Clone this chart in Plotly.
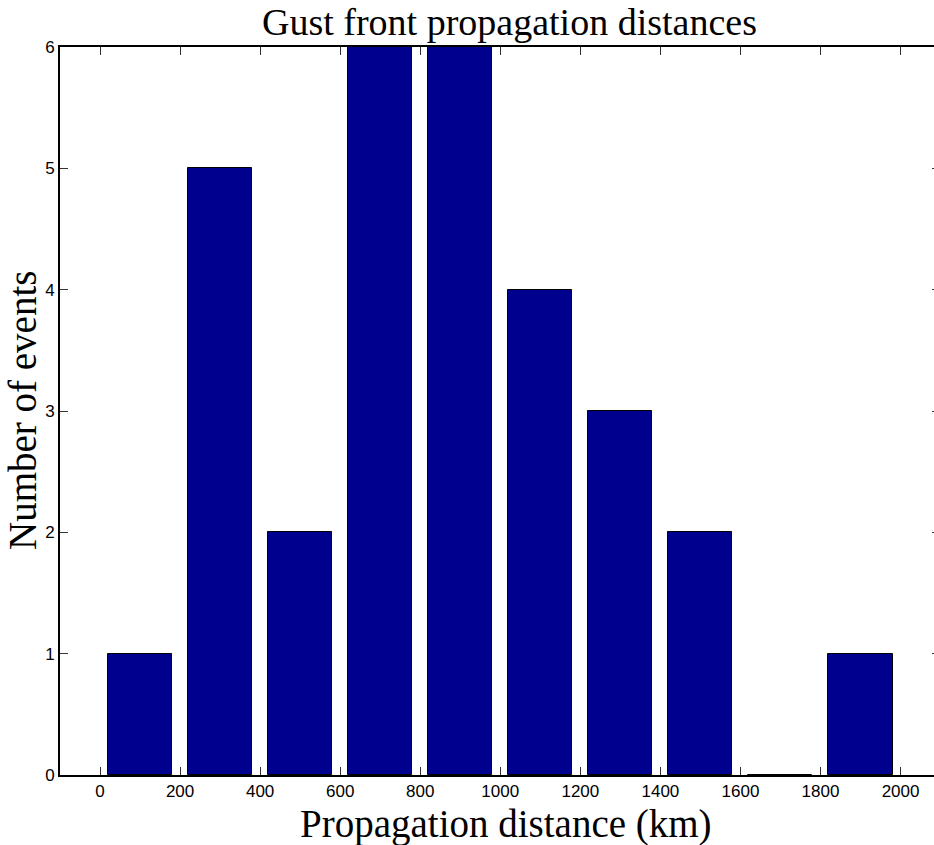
import plotly.graph_objects as go

# Histogram of gust front propagation distances (200 km bins)
bin_centers = [100, 300, 500, 700, 900, 1100, 1300, 1500, 1700, 1900]
counts = [1, 5, 2, 6, 6, 4, 3, 2, 0, 1]
bar_width = 160

x_ticks = [0, 200, 400, 600, 800, 1000, 1200, 1400, 1600, 1800, 2000]
y_ticks = [0, 1, 2, 3, 4, 5, 6]

title_text = "Gust front propagation distances"
x_label = "Propagation distance (km)"
y_label = "Number of events"

serif = "Liberation Serif, Times New Roman, serif"
sans = "Liberation Sans, Arial, sans-serif"

fig = go.Figure()
fig.add_trace(go.Bar(
    x=bin_centers,
    y=counts,
    width=bar_width,
    marker=dict(color="rgb(0,0,143)", line=dict(color="black", width=1)),
    hoverinfo="x+y",
))
# invisible trace that carries the right-hand tick marks
fig.add_trace(go.Scatter(x=[None], y=[None], yaxis="y2", showlegend=False))

fig.update_layout(
    width=934,
    height=845,
    autosize=False,
    margin=dict(l=60, r=0, t=47, b=70),
    paper_bgcolor="white",
    plot_bgcolor="white",
    showlegend=False,
    bargap=0,
    xaxis=dict(
        range=[-100, 2083.6],
        tickvals=x_ticks,
        ticktext=[str(v) for v in x_ticks],
        ticks="inside",
        ticklen=8,
        tickwidth=1,
        tickcolor="#333333",
        showline=True,
        linecolor="black",
        linewidth=2,
        mirror="ticks",
        showgrid=False,
        zeroline=False,
        tickfont=dict(family=sans, size=17, color="black"),
        ticklabelstandoff=0,
    ),
    yaxis=dict(
        range=[0, 6],
        tickvals=y_ticks,
        ticks="inside",
        ticklen=8,
        tickwidth=1,
        tickcolor="#333333",
        showline=True,
        linecolor="black",
        linewidth=2,
        showgrid=False,
        zeroline=False,
        tickfont=dict(family=sans, size=17, color="black"),
    ),
    yaxis2=dict(
        range=[0, 6],
        tickvals=y_ticks,
        overlaying="y",
        side="right",
        ticks="inside",
        ticklen=2,
        tickwidth=1,
        tickcolor="#333333",
        showticklabels=False,
        showline=False,
        showgrid=False,
        zeroline=False,
    ),
    annotations=[
        dict(text=title_text, xref="paper", yref="paper", x=0.514, y=1,
             yshift=25, xanchor="center", yanchor="middle", showarrow=False,
             font=dict(family=serif, size=38, color="black")),
        dict(text=x_label, xref="paper", yref="paper", x=0.51, y=0,
             yshift=-49, xanchor="center", yanchor="middle", showarrow=False,
             font=dict(family=serif, size=39, color="black")),
        dict(text=y_label, xref="paper", yref="paper", x=0, y=0.5,
             xshift=-38, xanchor="center", yanchor="middle", showarrow=False,
             textangle=-90,
             font=dict(family=serif, size=39, color="black")),
    ],
)

fig.write_html("out.html")
